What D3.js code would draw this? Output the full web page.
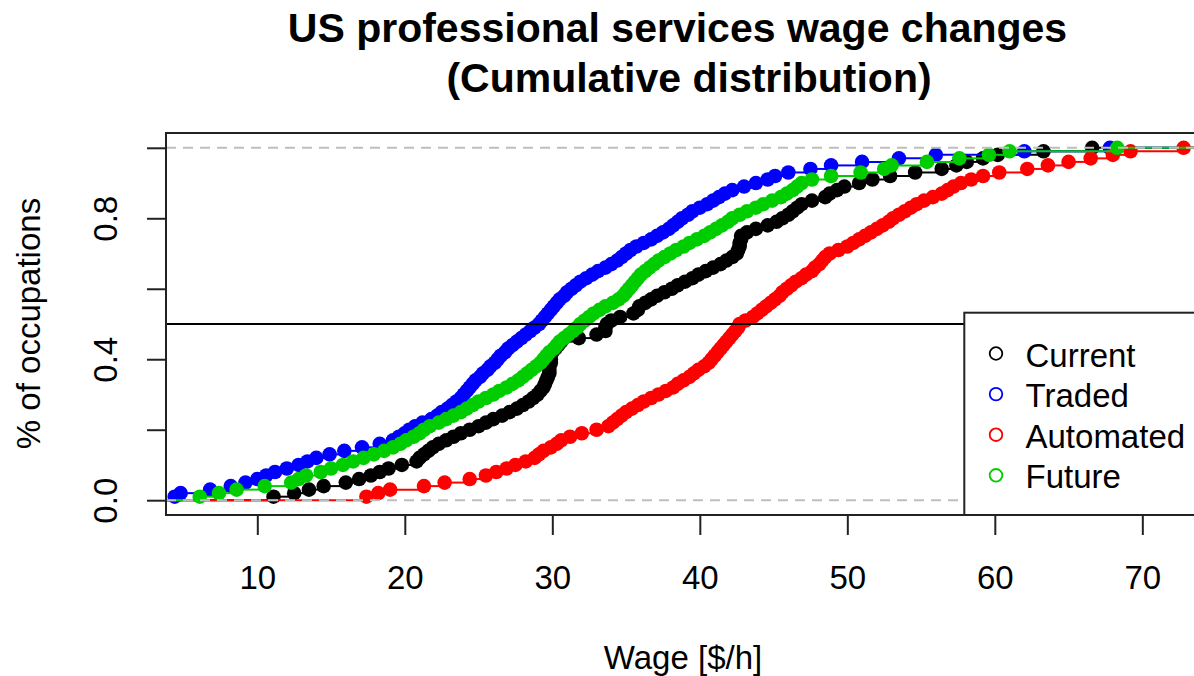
<!DOCTYPE html>
<html>
<head>
<meta charset="utf-8">
<script src="https://cdn.jsdelivr.net/npm/d3@7"></script>
<style>
  html, body { margin: 0; padding: 0; background: #fff; }
  svg { display: block; font-family: "Liberation Sans", Arial, sans-serif; }
</style>
</head>
<body>
<svg id="chart" width="1194" height="676"></svg>
<script>
// ---------- data (wages in $/h, sorted) ----------
const seriesNames = ["Current", "Traded", "Automated", "Future"];
const seriesColors = ["#000000", "#0000FF", "#FF0000", "#00CD00"];

const wagesCurrent = [
  11.1, 12.5, 13.5, 14.5, 16.0, 16.9, 17.7, 18.3, 18.9, 19.8,
  20.8, 21.0, 21.3, 21.6, 21.9, 22.3, 22.8, 23.3, 23.8, 24.4,
  25.0, 25.5, 26.0, 26.6, 27.1, 27.6, 28.0, 28.4, 28.7, 29.0,
  29.2, 29.4, 29.5, 29.6, 29.7, 29.8, 29.8, 29.8, 29.9, 29.9,
  29.9, 30.0, 30.2, 30.4, 30.6, 31.8, 33.0, 33.6, 33.6, 33.7,
  34.0, 34.6, 35.5, 35.8, 35.9, 36.3, 36.7, 37.1, 37.6, 38.1,
  38.5, 39.0, 39.5, 39.9, 40.4, 40.9, 41.4, 41.8, 42.2, 42.5,
  42.6, 42.7, 42.7, 42.8, 42.8, 43.2, 43.8, 44.6, 45.2, 45.6,
  46.0, 46.3, 46.6, 46.9, 47.6, 48.5, 48.8, 49.3, 49.8, 50.8,
  51.7, 52.9, 54.6, 56.4, 57.4, 58.1, 59.2, 60.2, 63.3, 66.6
];
const wagesTraded = [
  4.4, 4.8, 6.8, 8.2, 9.2, 10.0, 10.6, 11.2, 12.0, 12.8,
  13.4, 14.0, 14.9, 15.9, 17.1, 18.3, 19.2, 19.6, 20.0, 20.3,
  20.7, 21.2, 21.8, 22.2, 22.5, 22.9, 23.2, 23.5, 23.8, 24.0,
  24.2, 24.4, 24.6, 24.8, 25.1, 25.3, 25.6, 25.8, 26.1, 26.3,
  26.5, 26.8, 27.0, 27.3, 27.6, 27.9, 28.2, 28.5, 28.8, 29.1,
  29.3, 29.5, 29.7, 29.9, 30.1, 30.3, 30.5, 30.8, 31.0, 31.3,
  31.6, 31.9, 32.3, 32.7, 33.1, 33.6, 34.0, 34.4, 34.7, 35.0,
  35.3, 35.7, 36.2, 36.7, 37.1, 37.5, 37.9, 38.2, 38.5, 38.8,
  39.2, 39.5, 40.0, 40.5, 40.9, 41.3, 41.7, 42.2, 43.0, 43.8,
  44.6, 45.1, 46.0, 47.5, 48.9, 51.0, 53.5, 56.0, 62.0, 67.8
];
const wagesAutomated = [
  17.4, 18.2, 19.0, 21.3, 22.7, 24.4, 25.5, 26.2, 26.9, 27.5,
  28.2, 28.8, 29.1, 29.4, 29.9, 30.3, 30.6, 31.2, 32.0, 33.0,
  33.8, 34.1, 34.4, 34.7, 35.0, 35.4, 35.8, 36.2, 36.7, 37.2,
  37.7, 38.2, 38.5, 38.9, 39.3, 39.6, 39.9, 40.3, 40.6, 40.8,
  41.0, 41.2, 41.4, 41.6, 41.8, 42.0, 42.2, 42.4, 42.6, 42.7,
  43.1, 43.6, 43.9, 44.2, 44.5, 44.8, 45.1, 45.4, 45.6, 45.9,
  46.2, 46.5, 46.9, 47.2, 47.6, 47.8, 48.1, 48.3, 48.5, 48.8,
  49.4, 50.0, 50.4, 50.8, 51.2, 51.6, 52.0, 52.4, 52.8, 53.1,
  53.5, 53.9, 54.3, 54.7, 55.2, 55.8, 56.4, 56.8, 57.2, 57.7,
  58.4, 59.2, 60.3, 62.2, 63.6, 65.0, 66.5, 68.0, 69.2, 72.8
];
const wagesFuture = [
  6.1, 7.4, 8.6, 10.5, 12.3, 12.8, 13.3, 14.3, 15.0, 15.8,
  16.5, 17.2, 17.9, 18.6, 19.2, 19.7, 20.1, 20.6, 21.0, 21.3,
  21.7, 22.3, 22.8, 23.3, 23.8, 24.2, 24.6, 25.0, 25.5, 26.0,
  26.4, 26.9, 27.3, 27.7, 28.0, 28.3, 28.6, 28.9, 29.2, 29.4,
  29.6, 29.8, 30.1, 30.3, 30.5, 30.8, 31.1, 31.4, 31.7, 31.9,
  32.2, 32.5, 32.8, 33.2, 33.6, 34.1, 34.5, 34.8, 35.0, 35.2,
  35.4, 35.6, 35.8, 36.0, 36.3, 36.6, 36.9, 37.2, 37.6, 38.0,
  38.4, 38.9, 39.3, 39.8, 40.3, 40.7, 41.1, 41.5, 41.9, 42.2,
  42.7, 43.2, 43.8, 44.3, 44.9, 45.5, 45.9, 46.3, 46.6, 46.9,
  47.6, 48.9, 50.9, 52.5, 53.0, 55.4, 57.6, 59.6, 61.0, 68.3
];

const xTicks = [10, 20, 30, 40, 50, 60, 70];
const yTicks = [0, 0.2, 0.4, 0.6, 0.8, 1.0];
const yTickLabels = ["0.0", "", "0.4", "", "0.8", ""];
const refLevels = [0, 1];       // dashed grey reference lines
const medianLevel = [0.5];      // solid black line

const titleLines = ["US professional services wage changes", "(Cumulative distribution)"];
const xLabel = "Wage [$/h]";
const yLabel = "% of occupations";

// ---------- layout ----------
const svg = d3.select("#chart");
const plot = { left: 166, right: 1200, top: 133, bottom: 515 };

const x = d3.scaleLinear().domain([3.81, 73.91]).range([plot.left, plot.right]);
const y = d3.scaleLinear().domain([-0.042, 1.042]).range([plot.bottom, plot.top]);

svg.append("rect").attr("width", 1194).attr("height", 676).attr("fill", "#fff");

const allWages = [wagesCurrent, wagesTraded, wagesAutomated, wagesFuture];

// ---------- ecdf step functions ----------
allWages.forEach((w, si) => {
  const n = w.length;
  const col = seriesColors[si];
  const pts = w.map((v, i) => ({ x: v, F: (i + 1) / n }));
  const segs = [{ x1: x.domain()[0] - 5, x2: pts[0].x, F: 0 }];
  for (let i = 0; i < n - 1; i++) segs.push({ x1: pts[i].x, x2: pts[i + 1].x, F: pts[i].F });
  segs.push({ x1: pts[n - 1].x, x2: x.domain()[1] + 5, F: 1 });
  const g = svg.append("g");
  g.selectAll("line").data(segs).join("line")
    .attr("x1", d => Math.max(x(d.x1), plot.left))
    .attr("x2", d => x(d.x2))
    .attr("y1", d => y(d.F)).attr("y2", d => y(d.F))
    .attr("stroke", col).attr("stroke-width", 2);
  g.selectAll("circle").data(pts).join("circle")
    .attr("cx", d => x(d.x)).attr("cy", d => y(d.F))
    .attr("r", 7.3).attr("fill", col);
});

// ---------- reference lines ----------
svg.selectAll(".ref").data(refLevels).join("line").attr("class", "ref")
  .attr("x1", plot.left).attr("x2", plot.right)
  .attr("y1", d => y(d)).attr("y2", d => y(d))
  .attr("stroke", "#bebebe").attr("stroke-width", 2).attr("stroke-dasharray", "10,7");
svg.selectAll(".med").data(medianLevel).join("line").attr("class", "med")
  .attr("x1", plot.left).attr("x2", plot.right)
  .attr("y1", d => y(d)).attr("y2", d => y(d))
  .attr("stroke", "#000").attr("stroke-width", 2);

// ---------- frame ----------
svg.append("rect")
  .attr("x", plot.left).attr("y", plot.top)
  .attr("width", plot.right - plot.left).attr("height", plot.bottom - plot.top)
  .attr("fill", "none").attr("stroke", "#222").attr("stroke-width", 2);

// ---------- axes ----------
const xAxis = svg.append("g").attr("transform", `translate(0,${plot.bottom})`)
  .call(d3.axisBottom(x).tickValues(xTicks).tickSize(20).tickFormat(d3.format("d")));
xAxis.select(".domain").remove();
xAxis.selectAll(".tick line").attr("stroke", "#222").attr("stroke-width", 2);
xAxis.selectAll(".tick text").attr("y", 74).attr("dy", 0)
  .attr("font-size", 33).attr("fill", "#000")
  .attr("font-family", "Liberation Sans, Arial, sans-serif");

const yAxis = svg.append("g").attr("transform", `translate(${plot.left},0)`)
  .call(d3.axisLeft(y).tickValues(yTicks).tickSize(19).tickFormat((d, i) => yTickLabels[i]));
yAxis.select(".domain").remove();
yAxis.selectAll(".tick line").attr("stroke", "#222").attr("stroke-width", 2);
yAxis.selectAll(".tick text")
  .attr("transform", "rotate(-90)")
  .attr("x", 0).attr("y", -49.5).attr("dy", 0)
  .attr("text-anchor", "middle")
  .attr("font-size", 33).attr("fill", "#000")
  .attr("font-family", "Liberation Sans, Arial, sans-serif");

// ---------- labels ----------
svg.append("text").attr("x", 683).attr("y", 669)
  .attr("text-anchor", "middle").attr("font-size", 33).attr("fill", "#000")
  .text(xLabel);
svg.append("text")
  .attr("transform", "translate(40,323.5) rotate(-90)")
  .attr("text-anchor", "middle").attr("font-size", 33).attr("fill", "#000")
  .text(yLabel);

const titleX = [677.5, 689];
const titleY = [41.7, 92];
titleLines.forEach((t, i) => {
  svg.append("text").attr("x", titleX[i]).attr("y", titleY[i])
    .attr("text-anchor", "middle").attr("font-size", 41).attr("font-weight", "bold")
    .attr("fill", "#000").text(t);
});

// ---------- legend ----------
const legend = svg.append("g");
legend.append("rect")
  .attr("x", 964.3).attr("y", 312.7).attr("width", 300).attr("height", plot.bottom - 312.7)
  .attr("fill", "#fff").attr("stroke", "#222").attr("stroke-width", 2);
seriesNames.forEach((name, i) => {
  const by = 366.5 + i * 40.6;
  legend.append("circle").attr("cx", 996).attr("cy", by - 13).attr("r", 6.3)
    .attr("fill", "none").attr("stroke", seriesColors[i]).attr("stroke-width", 1.8);
  legend.append("text").attr("x", 1025.5).attr("y", by)
    .attr("font-size", 33).attr("fill", "#000").text(name);
});
</script>
</body>
</html>
